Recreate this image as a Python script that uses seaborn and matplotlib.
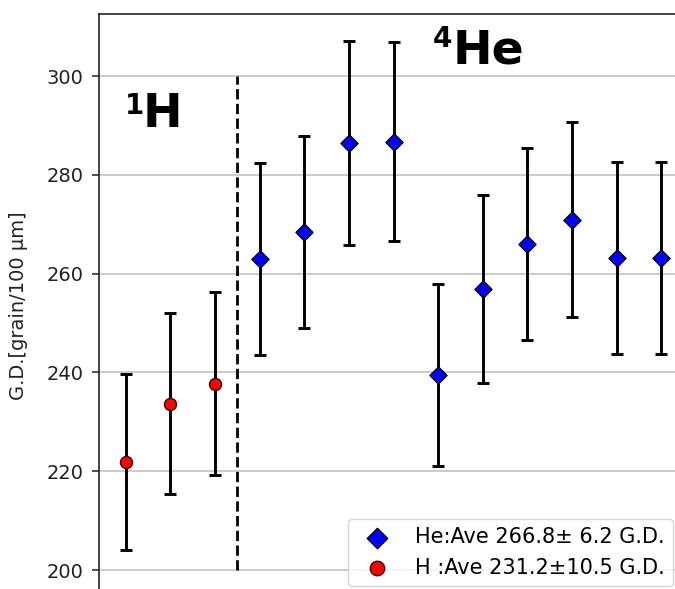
import matplotlib
matplotlib.use("Agg")
import matplotlib.pyplot as plt
import seaborn as sns
import pandas as pd
import numpy as np

# ---- data ----
h_x = [0, 1, 2]
h_y = [221.8, 233.7, 237.7]
h_err = [17.8, 18.3, 18.5]

he_x = [3, 4, 5, 6, 7, 8, 9, 10, 11, 12]
he_y = [263.0, 268.4, 286.4, 286.7, 239.5, 256.9, 266.0, 270.9, 263.2, 263.2]
he_err = [19.4, 19.5, 20.6, 20.1, 18.4, 19.1, 19.5, 19.7, 19.4, 19.4]

he_label = "He:Ave 266.8\u00b1 6.2 G.D."
h_label = "H :Ave 231.2\u00b110.5 G.D."
ylabel = "G.D.[grain/100 \u03bcm]"
yticks = [200, 220, 240, 260, 280, 300]
divider_x = 2.5
divider_span = (200, 300)

df_h = pd.DataFrame({"x": h_x, "y": h_y, "err": h_err})
df_he = pd.DataFrame({"x": he_x, "y": he_y, "err": he_err})

plt.rcParams["font.family"] = ["DejaVu Sans"]

fig = plt.figure(figsize=(6.75, 5.89), dpi=100)
ax = fig.add_axes([0.14667, -0.0129, 0.87259, 0.98913])

# error bars
for d in (df_h, df_he):
    ax.errorbar(d["x"], d["y"], yerr=d["err"], fmt="none", ecolor="black",
                elinewidth=2.1, capsize=4.5, capthick=2.1, zorder=2)

sns.scatterplot(data=df_he, x="x", y="y", marker="D", color="#0000ff",
                edgecolor="black", linewidth=1, s=75, label=he_label, ax=ax, zorder=3)
sns.scatterplot(data=df_h, x="x", y="y", marker="o", color="#ff0000",
                edgecolor="#330000", linewidth=1, s=75, label=h_label, ax=ax, zorder=3)

ax.vlines(divider_x, divider_span[0], divider_span[1], colors="black",
          linestyles="--", linewidth=2, zorder=2)

ax.set_xlim(-0.6, 12.6)
ax.set_ylim(194.625, 312.56)
ax.set_yticks(yticks)
ax.set_xticks([])
ax.set_xlabel("")
ax.set_ylabel(ylabel, fontsize=14, color="#222222")
ax.yaxis.set_label_coords(-0.1205, 0.499)
ax.tick_params(axis="y", labelsize=14, length=5, width=1.1, pad=6, colors="#222222")
ax.grid(axis="y", color="#bdbdbd", linewidth=1.1, zorder=0)
ax.set_axisbelow(True)
for sp in ax.spines.values():
    sp.set_color("#222222")
    sp.set_linewidth(1.2)

# big labels
ax.text(-0.02, 296.8, "1", fontsize=20, fontweight="bold", va="top", ha="left")
ax.text(0.38, 289.7, "H", fontsize=34, fontweight="bold", va="baseline", ha="left")
ax.text(6.88, 310.3, "4", fontsize=20, fontweight="bold", va="top", ha="left")
ax.text(7.33, 302.6, "He", fontsize=34, fontweight="bold", va="baseline", ha="left")

leg = ax.legend(loc="lower right", bbox_to_anchor=(0.9745, 0.0181), borderaxespad=0,
                fontsize=15, frameon=True, framealpha=0.8, edgecolor="#cccccc",
                markerscale=1.2)

fig.savefig("out.png", dpi=100)
